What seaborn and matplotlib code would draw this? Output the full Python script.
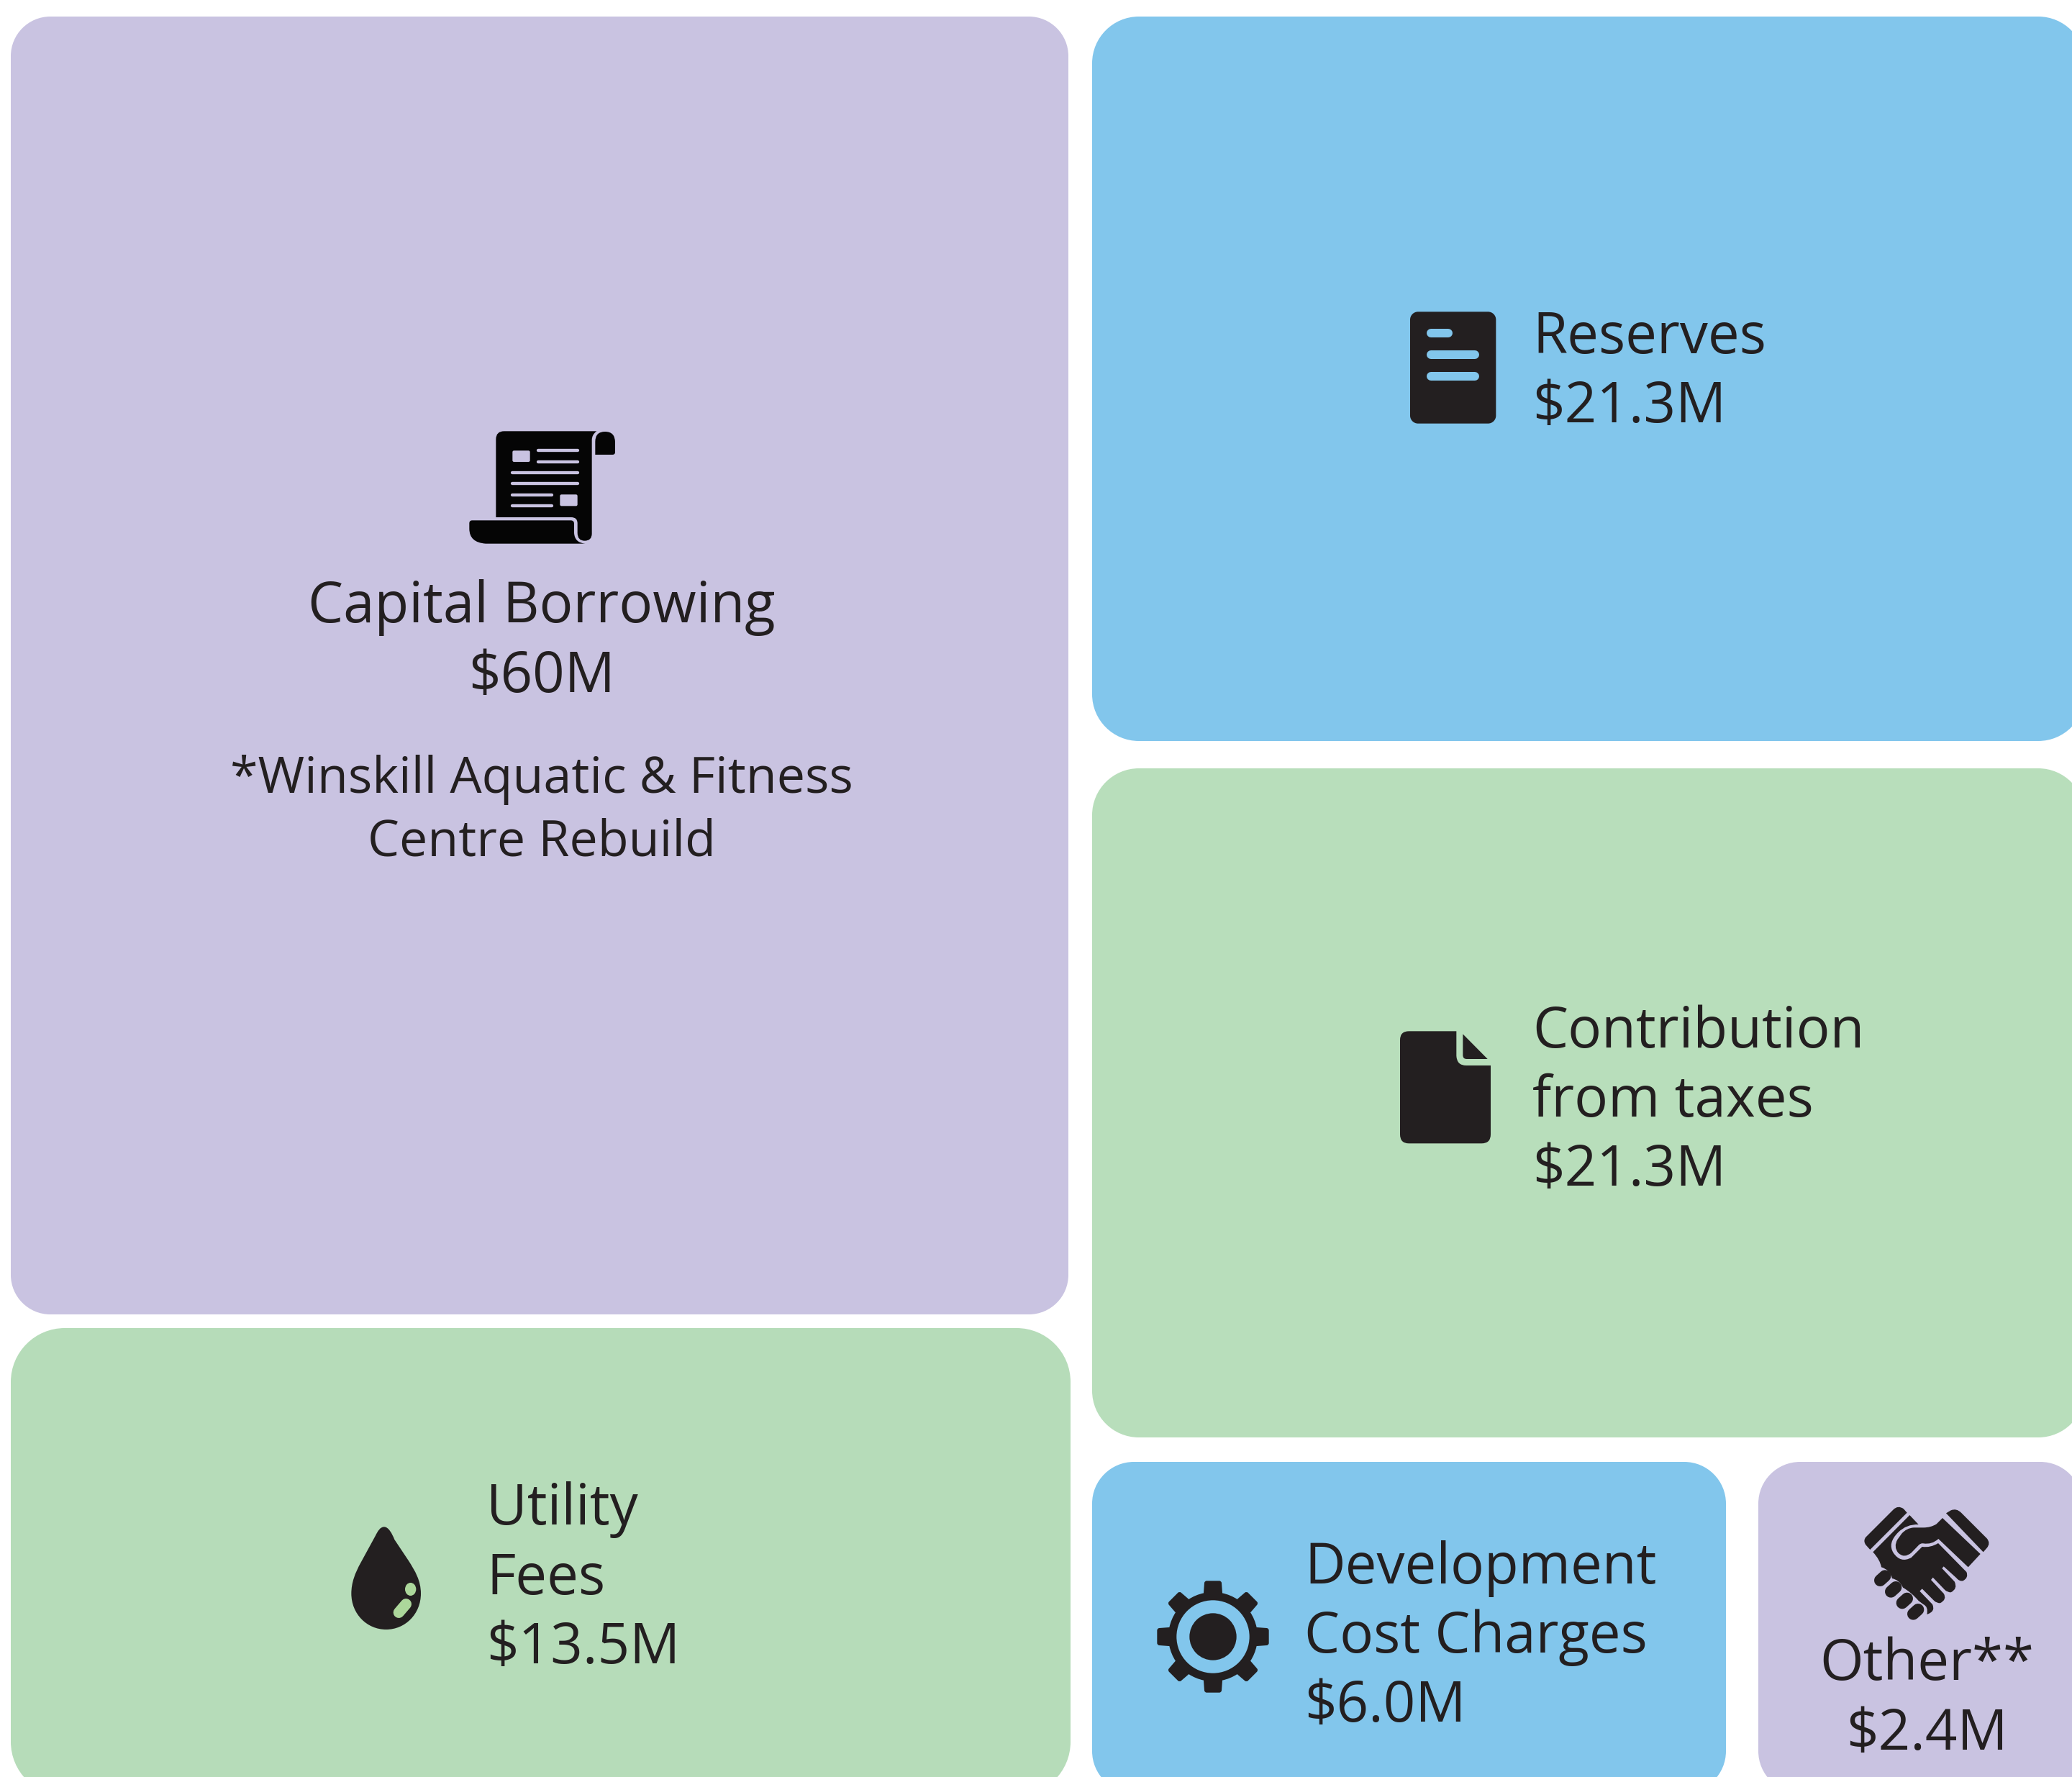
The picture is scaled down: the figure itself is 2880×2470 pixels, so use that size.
import numpy as np
import matplotlib
matplotlib.use("Agg")
import matplotlib.pyplot as plt
import seaborn as sns
from matplotlib.patches import PathPatch, Circle, Ellipse
from matplotlib.path import Path
from matplotlib.lines import Line2D

# ---- data
categories = ["Capital Borrowing", "Reserves", "Contribution\nfrom taxes", "Utility\nFees",
              "Development\nCost Charges", "Other**"]
amounts = ["$60M", "$21.3M", "$21.3M", "$13.5M", "$6.0M", "$2.4M"]
note_lines = ["*Winskill Aquatic & Fitness", "Centre Rebuild"]

# ---- styles / layout (pixel space of the 2880x2470 canvas)
PURPLE, BLUE, GREEN = "#c9c3e1", "#82c6ec", "#b8debb"
INK, BLACK, DROP = "#231f20", "#050505", "#acd79b"
tile_colors = [PURPLE, BLUE, GREEN, "#b6dcb9", BLUE, PURPLE]
tile_boxes = [(15, 23, 1470, 1804, 55), (1518, 23, 1380, 1007, 65), (1518, 1068, 1380, 930, 65),
              (15, 1846, 1473, 650, 75), (1518, 2032, 881, 460, 58), (2444, 2032, 450, 460, 58)]
FONT = "Open Sans"
FS = 28.1
FS_NOTE = 25.2

sns.set_theme(style="white")
plt.rcParams["font.family"] = [FONT, "DejaVu Sans"]
W, H, DPI = 2880, 2470, 200
fig = plt.figure(figsize=(W / DPI, H / DPI), dpi=DPI, facecolor="white")
ax = fig.add_axes([0, 0, 1, 1])
ax.set_xlim(0, W)
ax.set_ylim(H, 0)
ax.axis("off")
sns.despine(ax=ax, left=True, bottom=True)
PX = 72 / DPI
KAPPA = 0.5523


def shape(ops, o, color, z=3):
    """Filled path from M/L/Q/C ops given in 3x zoom coordinates around origin o."""
    v, c = [], []
    for op in ops:
        k, pts = op[0], op[1:]
        code = {"M": [Path.MOVETO], "L": [Path.LINETO], "Q": [Path.CURVE3] * 2, "C": [Path.CURVE4] * 3}[k]
        for i in range(0, len(pts), 2):
            v.append((o[0] + pts[i] / 3, o[1] + pts[i + 1] / 3))
        c += code
    v.append(v[0])
    c.append(Path.CLOSEPOLY)
    ax.add_patch(PathPatch(Path(v, c), fc=color, ec="none", lw=0, zorder=z))


def rrect(x0, y0, x1, y1, r, color, z=3):
    """Rectangle with true circular corners."""
    k = r * (1 - KAPPA)
    v = [(x0 + r, y0), (x1 - r, y0), (x1 - k, y0), (x1, y0 + k), (x1, y0 + r),
         (x1, y1 - r), (x1, y1 - k), (x1 - k, y1), (x1 - r, y1),
         (x0 + r, y1), (x0 + k, y1), (x0, y1 - k), (x0, y1 - r),
         (x0, y0 + r), (x0, y0 + k), (x0 + k, y0), (x0 + r, y0), (x0 + r, y0)]
    c = [Path.MOVETO, Path.LINETO] + [Path.CURVE4] * 3 + [Path.LINETO] + [Path.CURVE4] * 3 + \
        [Path.LINETO] + [Path.CURVE4] * 3 + [Path.LINETO] + [Path.CURVE4] * 3 + [Path.CLOSEPOLY]
    ax.add_patch(PathPatch(Path(v, c), fc=color, ec="none", lw=0, zorder=z))


def stroke(x0, y0, x1, y1, o, w, color, z=4, cap="round"):
    ax.add_line(Line2D([o[0] + x0 / 3, o[0] + x1 / 3], [o[1] + y0 / 3, o[1] + y1 / 3], color=color,
                       lw=w / 3 * PX, solid_capstyle=cap, zorder=z))


for (x, y, w, h, r), c in zip(tile_boxes, tile_colors):
    rrect(x, y, x + w, y + h, r, c, z=1)

# ---- scroll icon
o = (620, 570)
shape([("M", 208, 122), ("Q", 208, 88, 242, 88), ("L", 628, 88), ("Q", 608, 102, 608, 125), ("L", 608, 515),
       ("Q", 608, 545, 578, 545), ("Q", 548, 545, 548, 512), ("L", 548, 472), ("Q", 548, 447, 522, 447),
       ("L", 208, 447)], o, BLACK)
shape([("M", 622, 186), ("L", 622, 132), ("Q", 622, 90, 663, 90), ("Q", 705, 90, 705, 135), ("L", 705, 175),
       ("Q", 705, 186, 694, 186)], o, BLACK)
shape([("M", 97, 472), ("Q", 97, 460, 109, 460), ("L", 520, 460), ("Q", 534, 460, 534, 474), ("L", 534, 512),
       ("Q", 536, 553, 580, 557), ("L", 165, 557), ("Q", 97, 552, 97, 495)], o, BLACK)
rrect(o[0] + 277 / 3, o[1] + 169 / 3, o[0] + 350 / 3, o[1] + 216 / 3, 2, PURPLE, z=4)
rrect(o[0] + 475 / 3, o[1] + 352 / 3, o[0] + 548 / 3, o[1] + 400 / 3, 2, PURPLE, z=4)
for (xa, xb, yy) in [(385, 548, 169), (385, 548, 215), (277, 548, 261), (277, 548, 307), (277, 440, 353), (277, 440, 399)]:
    stroke(xa, yy, xb, yy, o, 13, PURPLE)

# ---- reserves icon
o = (1920, 400)
rrect(o[0] + 120 / 3, o[1] + 100 / 3, o[0] + 478 / 3, o[1] + 566 / 3, 11, INK)
for (xa, xb, yy) in [(208, 280, 189), (208, 389, 279), (208, 389, 369)]:
    stroke(xa, yy, xb, yy, o, 36, BLUE)

# ---- contribution icon
o = (1900, 1400)
shape([("M", 138, 137), ("Q", 138, 100, 175, 100), ("L", 373, 100), ("L", 373, 203), ("Q", 375, 243, 414, 243),
       ("L", 516, 243), ("L", 516, 530), ("Q", 516, 568, 478, 568), ("L", 175, 568), ("Q", 138, 568, 138, 530)], o, INK)
shape([("M", 400, 112), ("L", 503, 216), ("L", 416, 216), ("Q", 400, 216, 400, 200)], o, INK)

# ---- drop icon
o = (460, 2100)
shape([("M", 222, 67), ("C", 205, 67, 195, 85, 185, 105), ("L", 125, 215), ("C", 100, 260, 85, 300, 85, 345),
       ("C", 85, 430, 150, 495, 230, 495), ("C", 310, 495, 375, 430, 375, 345), ("C", 375, 290, 350, 250, 325, 210),
       ("L", 265, 120), ("C", 255, 95, 240, 67, 222, 67)], o, INK)
ax.add_patch(Ellipse((o[0] + 332 / 3, o[1] + 327 / 3), 46 / 3, 54 / 3, fc=DROP, ec="none", zorder=4))
stroke(313, 389, 283, 424, o, 46, DROP)

# ---- gear icon
o = (1590, 2180)
cx, cy = 288, 285
for a in np.deg2rad(np.arange(0, 360, 45)):
    ca, sa = np.cos(a), np.sin(a)
    rot = lambda px, py: (cx + px * ca - py * sa, cy + px * sa + py * ca)
    pts = [(-40, -170), (-36, -224), (-35, -233), (-26, -233), (26, -233), (35, -233), (36, -224), (40, -170)]
    r_ = [rot(*p) for p in pts]
    shape([("M", *r_[0]), ("L", *r_[1]), ("Q", *r_[2], *r_[3]), ("L", *r_[4]), ("Q", *r_[5], *r_[6]), ("L", *r_[7])], o, INK)
ctr = (o[0] + cx / 3, o[1] + cy / 3)
ax.add_patch(Circle(ctr, 186 / 3, fc=INK, ec="none", zorder=3))
ax.add_patch(Circle(ctr, 152 / 3, fc=BLUE, ec="none", zorder=4))
ax.add_patch(Circle(ctr, 98 / 3, fc=INK, ec="none", zorder=5))

# ---- handshake icon
o = (2560, 2070)
shape([("M", 118, 252), ("L", 100, 232), ("Q", 88, 215, 100, 200), ("L", 215, 85), ("Q", 235, 65, 258, 82), ("L", 272, 98)], o, INK)
shape([("M", 435, 100), ("L", 455, 88), ("Q", 478, 78, 498, 98), ("L", 605, 205), ("Q", 622, 225, 605, 245), ("L", 590, 262)], o, INK)
shape([("M", 420, 120), ("L", 578, 270), ("L", 527, 325), ("L", 403, 207), ("Q", 375, 232, 340, 226), ("Q", 328, 224, 318, 236),
       ("L", 290, 265), ("Q", 260, 290, 235, 265), ("Q", 215, 240, 232, 210), ("L", 250, 185), ("Q", 270, 162, 300, 160),
       ("L", 340, 160), ("Q", 372, 160, 395, 145)], o, INK)
shape([("M", 130, 262), ("L", 283, 108), ("L", 320, 147), ("Q", 270, 145, 235, 180), ("Q", 190, 225, 215, 265),
       ("Q", 245, 310, 290, 285), ("L", 335, 240), ("Q", 370, 245, 402, 225), ("L", 520, 345), ("Q", 530, 370, 505, 382),
       ("Q", 490, 385, 478, 370), ("L", 425, 322), ("L", 418, 330), ("L", 470, 385), ("Q", 485, 415, 455, 430),
       ("Q", 440, 430, 430, 420), ("L", 380, 368), ("L", 372, 378), ("L", 425, 435), ("Q", 440, 460, 410, 475),
       ("Q", 395, 475, 385, 465), ("L", 335, 415), ("L", 325, 425), ("L", 378, 480), ("Q", 392, 510, 355, 522),
       ("Q", 362, 490, 340, 480), ("L", 320, 465), ("Q", 290, 430, 255, 410), ("Q", 240, 378, 210, 372),
       ("Q", 200, 335, 165, 325), ("Q", 160, 295, 130, 262)], o, INK)
for (xa, ya, xb, yb) in [(160, 380, 180, 362), (205, 427, 225, 409), (252, 474, 272, 456), (298, 520, 318, 502)]:
    stroke(xa, ya, xb, yb, o, 50, INK)


# ---- text (baseline-anchored)
def label(x, y, s, ha="left", fs=FS):
    ax.text(x, y, s, ha=ha, va="baseline", fontsize=fs, color=INK, zorder=6)


label(753, 865, categories[0], ha="center")
label(753, 962, amounts[0], ha="center")
label(753, 1102, note_lines[0], ha="center", fs=FS_NOTE)
label(753, 1190, note_lines[1], ha="center", fs=FS_NOTE)

label(2130, 491, categories[1])
label(2130, 587, amounts[1])

a, b = categories[2].split("\n")
label(2130, 1456, a)
label(2130, 1552, b)
label(2130, 1648, amounts[2])

a, b = categories[3].split("\n")
label(676, 2119, a)
label(676, 2216, b)
label(676, 2312, amounts[3])

a, b = categories[4].split("\n")
label(1813, 2201, a)
label(1813, 2297, b)
label(1813, 2393, amounts[4])

label(2678, 2335, categories[5], ha="center")
label(2678, 2432, amounts[5], ha="center")

fig.savefig("out.png", dpi=DPI, facecolor="white")
